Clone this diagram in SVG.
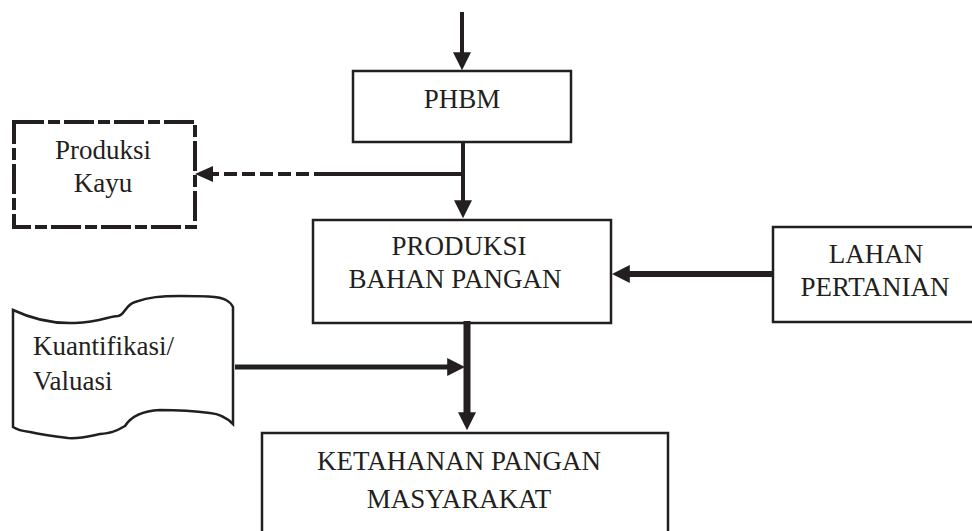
<svg xmlns="http://www.w3.org/2000/svg" width="972" height="531" viewBox="0 0 972 531" font-family="Liberation Serif, serif">
<style>
text{font-family:"Liberation Serif",serif !important;font-size:27px;fill:#231f20}
.m{text-anchor:middle}
.box{fill:#fff;stroke:#231f20;stroke-width:2.5}
</style>
<defs>
<marker id="ah" viewBox="0 0 20 20" refX="2" refY="10" markerWidth="18" markerHeight="20" markerUnits="userSpaceOnUse" orient="auto">
<path d="M0,0 L20,10 L0,20 z" fill="#231f20"/>
</marker>
</defs>
<rect width="972" height="531" fill="#fff"/>
<g id="phbm">
<rect class="box" x="353" y="71" width="218" height="71"/>
<text class="m" x="462" y="108">PHBM</text>
</g>
<g id="produksi-kayu">
<rect x="14" y="122" width="181" height="105" fill="#fff" stroke="#231f20" stroke-width="4" stroke-dasharray="30 4 12 4"/>
<text class="m" x="103" y="159">Produksi</text>
<text class="m" x="103" y="192">Kayu</text>
</g>
<g id="produksi-bahan-pangan">
<rect class="box" x="313" y="220" width="298" height="103"/>
<text class="m" x="459" y="255">PRODUKSI</text>
<text class="m" x="455" y="288">BAHAN PANGAN</text>
</g>
<g id="lahan-pertanian">
<rect class="box" x="773" y="227" width="205" height="95"/>
<text class="m" x="876" y="263">LAHAN</text>
<text class="m" x="875" y="296">PERTANIAN</text>
</g>
<g id="kuantifikasi">
<path class="box" d="M13,310 C30,318 50,324 75,323 C100,322 110,316 118,316 C125,315 125,305 135,302 C150,297 160,296 180,296 C200,296 220,296 226,300 C230,302 232,305 233,307 L233,424 C228,419 222,414 210,413 C195,411 178,410 160,410 C140,411 130,418 125,426 C115,432 110,433 100,434 C90,436 80,439 68,438 C50,436 38,434 30,432 C22,431 16,429 13,427 Z"/>
<text x="33" y="355">Kuantifikasi/</text>
<text x="33" y="390">Valuasi</text>
</g>
<g id="ketahanan-pangan">
<rect class="box" x="262" y="433" width="406" height="110"/>
<text class="m" x="459" y="470">KETAHANAN PANGAN</text>
<text class="m" x="459" y="508">MASYARAKAT</text>
</g>
<g id="connectors" stroke="#231f20" fill="none">
<line x1="462" y1="12" x2="462" y2="54" stroke-width="4" marker-end="url(#ah)"/>
<line x1="463" y1="142" x2="463" y2="202" stroke-width="4" marker-end="url(#ah)"/>
<line x1="461" y1="174" x2="213" y2="174" stroke-width="4" stroke-dasharray="147 5 13 5 13 5 13 5 13 5 13 5"/>
<polygon points="195,174 213,166 213,182" fill="#231f20" stroke="none"/>
<line x1="773" y1="274" x2="628" y2="274" stroke-width="6" marker-end="url(#ah)"/>
<line x1="235" y1="367" x2="449" y2="367" stroke-width="5" marker-end="url(#ah)"/>
<line x1="467" y1="321" x2="467" y2="414" stroke-width="7" marker-end="url(#ah)"/>
</g>
</svg>
